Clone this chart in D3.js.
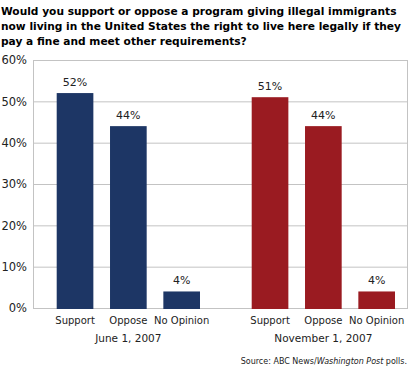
<!DOCTYPE html>
<html><head><meta charset="utf-8">
<script src="https://cdn.jsdelivr.net/npm/d3@7"></script>
<style>body{margin:0;background:#fff}svg{display:block}</style>
</head><body>
<svg id="c" width="410" height="367"></svg>
<script>
const titleLines = ["Would you support or oppose a program giving illegal immigrants",
  "now living in the United States the right to live here legally if they",
  "pay a fine and meet other requirements?"];
const groups = ["June 1, 2007", "November 1, 2007"];
const categories = ["Support", "Oppose", "No Opinion"];
const june = [52, 44, 4];
const november = [51, 44, 4];
const seriesValues = [june, november];
const groupColors = ["#1d3665", "#9a1b21"];
const yTicks = [0, 10, 20, 30, 40, 50, 60];

const svg = d3.select("#c");
const font = "DejaVu Sans, Verdana, sans-serif";
const L = 33, R = 408, T = 60, B = 308;

// title: fit first line to ~396px
const tt = svg.append("text").attr("font-family", font).attr("font-weight", "bold")
  .attr("font-size", 12).attr("fill", "#000");
titleLines.forEach((s, i) => {
  tt.append("tspan").attr("x", 1).attr("y", 15 + i * 15).text(s);
});
const w0 = tt.select("tspan").node().getComputedTextLength();
const fs = w0 > 0 ? Math.min(14, 12 * 396 / w0) : 12;
tt.attr("font-size", fs);

const y = d3.scaleLinear().domain([0, 60]).range([B, T]);

// gridlines
svg.append("g").selectAll("line").data(yTicks).join("line")
  .attr("x1", L).attr("x2", R).attr("y1", d => y(d) + 0.5).attr("y2", d => y(d) + 0.5)
  .attr("stroke", "#c3c3c3").attr("stroke-width", 1);
svg.append("line").attr("x1", L + 0.5).attr("x2", L + 0.5).attr("y1", T).attr("y2", B + 1)
  .attr("stroke", "#c3c3c3");
svg.append("line").attr("x1", R - 0.5).attr("x2", R - 0.5).attr("y1", T).attr("y2", B + 1)
  .attr("stroke", "#c3c3c3");

// y axis labels
const yAxis = d3.axisLeft(y).tickValues(yTicks).tickFormat(d => d + "%").tickSize(0).tickPadding(6);
const ya = svg.append("g").attr("transform", `translate(${L},0)`).call(yAxis);
ya.select(".domain").remove();
ya.selectAll("text").attr("font-family", font).attr("font-size", 11.5).attr("fill", "#222")
  .attr("x", -6);

// bars
const gx = d3.scaleBand().domain(groups).range([56.7, 446.7]).padding(0);
const bx = d3.scaleBand().domain(categories).range([0, 143.3]).paddingInner(0.3125).paddingOuter(0);

groups.forEach((g, gi) => {
  const gg = svg.append("g").attr("transform", `translate(${gx(g)},0)`);
  categories.forEach((c, ci) => {
    const v = seriesValues[gi][ci];
    gg.append("rect").attr("x", bx(c)).attr("width", bx.bandwidth())
      .attr("y", y(v)).attr("height", y(0) - y(v) + 1).attr("fill", groupColors[gi]);
    gg.append("text").attr("x", bx(c) + bx.bandwidth() / 2).attr("y", y(v) - 7)
      .attr("text-anchor", "middle").attr("font-family", font).attr("font-size", 11)
      .attr("fill", "#222").text(v + "%");
    gg.append("text").attr("x", bx(c) + bx.bandwidth() / 2).attr("y", 324)
      .attr("text-anchor", "middle").attr("font-family", font).attr("font-size", 10)
      .attr("fill", "#222").text(c);
  });
  gg.append("text").attr("x", 143.3 / 2).attr("y", 342)
    .attr("text-anchor", "middle").attr("font-family", font).attr("font-size", 10.5)
    .attr("fill", "#222").text(g);
});

// source
const src = svg.append("text").attr("x", 407).attr("y", 364).attr("text-anchor", "end")
  .attr("font-family", font).attr("font-size", 8).attr("fill", "#222");
src.append("tspan").text("Source: ABC News/");
src.append("tspan").attr("font-style", "italic").text("Washington Post");
src.append("tspan").text(" polls.");
</script>
</body></html>
